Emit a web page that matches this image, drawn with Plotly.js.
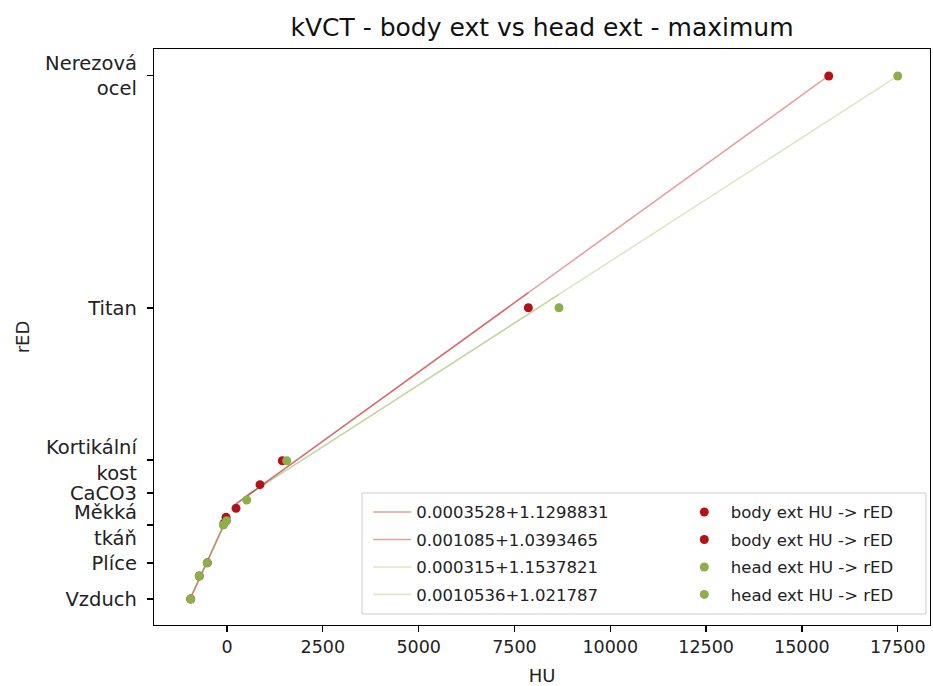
<!DOCTYPE html>
<html>
<head>
<meta charset="utf-8">
<script src="https://cdn.plot.ly/plotly-3.0.1.min.js"></script>
<style>html,body{margin:0;padding:0;background:#fff;}#chart{width:933px;height:686px;}</style>
</head>
<body>
<div id="chart"></div>
<script>
// ---- data ----
const bodyLowHU   = [-947, -723, -514, -78, -26];
const bodyLowRED  = [0.0, 0.293, 0.461, 0.965, 1.041];
const bodyHighHU  = [235, 861, 1443, 7862, 15700];
const bodyHighRED = [1.156, 1.457, 1.762, 3.712, 6.665];

const headLowHU   = [-947, -723, -514, -97, -8];
const headLowRED  = [0.0, 0.293, 0.461, 0.943, 0.998];
const headHighHU  = [514, 1558, 8662, 17500];
const headHighRED = [1.262, 1.762, 3.712, 6.665];

// fitted lines: slope, intercept
const bodyHighFit = [0.0003528, 1.1298831];
const bodyLowFit  = [0.001085, 1.0393465];
const headHighFit = [0.000315, 1.1537821];
const headLowFit  = [0.0010536, 1.021787];

const fitLabels = ["0.0003528+1.1298831", "0.001085+1.0393465", "0.000315+1.1537821", "0.0010536+1.021787"];
const seriesLabels = ["body ext HU -> rED", "head ext HU -> rED"];

const yTickVals = [0.0, 0.459, 0.943, 1.351, 1.771, 3.708, 6.670];
const yTickText = ["Vzduch", "Plíce", "Měkká<br>tkáň", "CaCO3", "Kortikální<br>kost", "Titan", "Nerezová<br>ocel"];
const xTickVals = [0, 2500, 5000, 7500, 10000, 12500, 15000, 17500];

// ---- styling ----
const RED = '#b3121a';
const GREEN = '#8dae4b';
const RED_LINE = 'rgba(190,30,30,0.42)';
const GREEN_LINE = 'rgba(140,175,75,0.30)';
const FONT = 'DejaVu Sans';

function fitLine(xs, fit, color, name, rank, legend, showlegend, group) {
  return {
    type: 'scatter', mode: 'lines',
    x: xs, y: xs.map(v => fit[0] * v + fit[1]),
    line: {color: color, width: 1.6},
    name: name, legend: legend, legendrank: rank, legendgroup: group,
    showlegend: showlegend, hoverinfo: 'skip'
  };
}
function pts(xs, ys, color, name, rank, group) {
  return {
    type: 'scatter', mode: 'markers', x: xs, y: ys,
    marker: {color: color, size: 9},
    name: name, legend: 'legend2', legendrank: rank, legendgroup: group
  };
}

const first = a => a[0];
const last = a => a[a.length - 1];
const titanIdxBody = bodyHighHU.length - 2;
const titanIdxHead = headHighHU.length - 2;

const traces = [
  fitLine([first(headHighHU), last(headHighHU)], headHighFit, GREEN_LINE, fitLabels[2], 3, 'legend', true, 'l3'),
  fitLine([first(headHighHU), headHighHU[titanIdxHead]], headHighFit, GREEN_LINE, '', 9, 'legend', false, 'l3'),
  fitLine([first(headLowHU), last(headLowHU)], headLowFit, GREEN_LINE, fitLabels[3], 4, 'legend', true, 'l4'),
  fitLine([first(headLowHU), last(headLowHU)], headLowFit, GREEN_LINE, '', 9, 'legend', false, 'l4'),
  fitLine([first(bodyHighHU), last(bodyHighHU)], bodyHighFit, RED_LINE, fitLabels[0], 1, 'legend', true, 'l1'),
  fitLine([first(bodyHighHU), bodyHighHU[titanIdxBody]], bodyHighFit, RED_LINE, '', 9, 'legend', false, 'l1'),
  fitLine([first(bodyLowHU), last(bodyLowHU)], bodyLowFit, RED_LINE, fitLabels[1], 2, 'legend', true, 'l2'),
  pts(bodyHighHU, bodyHighRED, RED, seriesLabels[0], 1, 'p1'),
  pts(bodyLowHU, bodyLowRED, RED, seriesLabels[0], 2, 'p2'),
  pts(headHighHU, headHighRED, GREEN, seriesLabels[1], 3, 'p3'),
  pts(headLowHU, headLowRED, GREEN, seriesLabels[1], 4, 'p4')
];

const axisCommon = {
  showline: true, mirror: true, linecolor: '#000', linewidth: 1.2,
  ticks: 'outside', ticklen: 6, tickwidth: 1.2, tickcolor: '#000',
  showgrid: false, zeroline: false
};

const layout = {
  width: 933, height: 686,
  margin: {l: 154, r: 3, t: 49, b: 61},
  paper_bgcolor: '#fff', plot_bgcolor: '#fff',
  font: {family: FONT, color: '#222'},
  title: {text: 'kVCT - body ext vs head ext - maximum', font: {family: FONT, size: 25, color: '#111'},
          xref: 'paper', x: 0.5, xanchor: 'center', yref: 'container', y: 0.9606, yanchor: 'middle'},
  xaxis: Object.assign({}, axisCommon, {
    range: [-1905, 18342], tickvals: xTickVals, ticktext: xTickVals.map(String),
    tickfont: {family: FONT, size: 17.5, color: '#222'},
    title: {text: 'HU', font: {family: FONT, size: 18, color: '#222'}, standoff: 14}
  }),
  yaxis: Object.assign({}, axisCommon, {
    range: [-0.331, 7.009], tickvals: yTickVals, ticktext: yTickText, ticklabelstandoff: 6,
    tickfont: {family: FONT, size: 19.5, color: '#222'},
    title: {text: 'rED', font: {family: FONT, size: 18, color: '#222'}, standoff: 10}
  }),
  shapes: [{
    type: 'rect', xref: 'paper', yref: 'paper',
    x0: 0.2680, x1: 0.9948, y0: 0.0191, y1: 0.2292,
    line: {color: '#cccccc', width: 1}, fillcolor: 'rgba(255,255,255,0.85)', layer: 'above'
  }],
  legend: {x: 0.276, xanchor: 'left', y: 0.226, yanchor: 'top', bgcolor: 'rgba(0,0,0,0)', borderwidth: 0,
           font: {family: FONT, size: 16.5, color: '#222'}, tracegroupgap: 3, itemwidth: 38},
  legend2: {x: 0.675, xanchor: 'left', y: 0.226, yanchor: 'top', bgcolor: 'rgba(0,0,0,0)', borderwidth: 0,
            font: {family: FONT, size: 16.5, color: '#222'}, tracegroupgap: 3, itemwidth: 43},
  showlegend: true
};

Plotly.newPlot('chart', traces, layout, {displayModeBar: false, staticPlot: true});
</script>
</body>
</html>
